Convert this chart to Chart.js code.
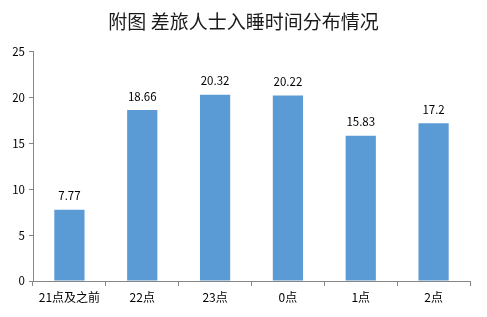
<!DOCTYPE html>
<html>
<head>
<meta charset="utf-8">
<script src="https://cdn.jsdelivr.net/npm/chart.js@4/dist/chart.umd.min.js"></script>
<style>
  html, body { margin: 0; padding: 0; background: #fff; }
  #wrap { width: 487px; height: 317px; }
</style>
</head>
<body>
<div id="wrap"><canvas id="chart" width="487" height="317"></canvas></div>
<script>
const categories = ["21点及之前", "22点", "23点", "0点", "1点", "2点"];
const values = [7.77, 18.66, 20.32, 20.22, 15.83, 17.2];
const yTicks = [0, 5, 10, 15, 20, 25];

const FONT = '"Noto Sans CJK SC", "Liberation Sans", sans-serif';

// draws the value above each bar
const barLabels = {
    id: "barLabels",
    afterDatasetsDraw(chart){
        const ctx = chart.ctx;
        const meta = chart.getDatasetMeta(0);
        ctx.save();
        ctx.font = "11.5px " + FONT;
        ctx.fillStyle = "#000";
        ctx.textAlign = "center";
        ctx.textBaseline = "bottom";
        meta.data.forEach((bar, i) => {
            ctx.fillText(String(values[i]), bar.x, bar.y - 8);
        });
        ctx.restore();
    }
};

// center the title on the whole canvas, not only the padded box
const titleCenter = {
    id: "titleCenter",
    afterLayout(chart){
        const t = chart.titleBlock;
        if (t){ t.left = 0; t.right = chart.width; t.width = chart.width; }
    }
};

new Chart(document.getElementById("chart"), {
    type: "bar",
    data: {
        labels: categories,
        datasets: [{
            data: values,
            backgroundColor: "#5b9bd5",
            barPercentage: 0.83,
            categoryPercentage: 0.5
        }]
    },
    options: {
        responsive: false,
        animation: false,
        layout: { padding: { top: 0, right: 17, bottom: 0, left: 0 } },
        plugins: {
            legend: { display: false },
            tooltip: { enabled: false },
            title: {
                display: true,
                text: "附图 差旅人士入睡时间分布情况",
                color: "#1a1a1a",
                font: { family: FONT, size: 19, weight: "normal" },
                padding: { top: 10, bottom: 19 }
            }
        },
        scales: {
            x: {
                grid: { display: true, drawOnChartArea: false, drawTicks: true, tickLength: 5, color: "#868686" },
                border: { color: "#868686" },
                ticks: { color: "#000", font: { family: FONT, size: 12 }, padding: 4, maxRotation: 0 },
                afterFit(scale){ scale.height = 36; }
            },
            y: {
                min: 0,
                max: 25,
                afterBuildTicks(scale){ scale.ticks = yTicks.map(v => ({ value: v })); },
                grid: { display: true, drawOnChartArea: false, drawTicks: true, tickLength: 4, color: "#868686" },
                border: { color: "#868686" },
                ticks: { color: "#000", font: { family: FONT, size: 11.5 }, padding: 4 },
                afterFit(scale){ scale.width = 33; }
            }
        }
    },
    plugins: [barLabels, titleCenter]
});
</script>
</body>
</html>
